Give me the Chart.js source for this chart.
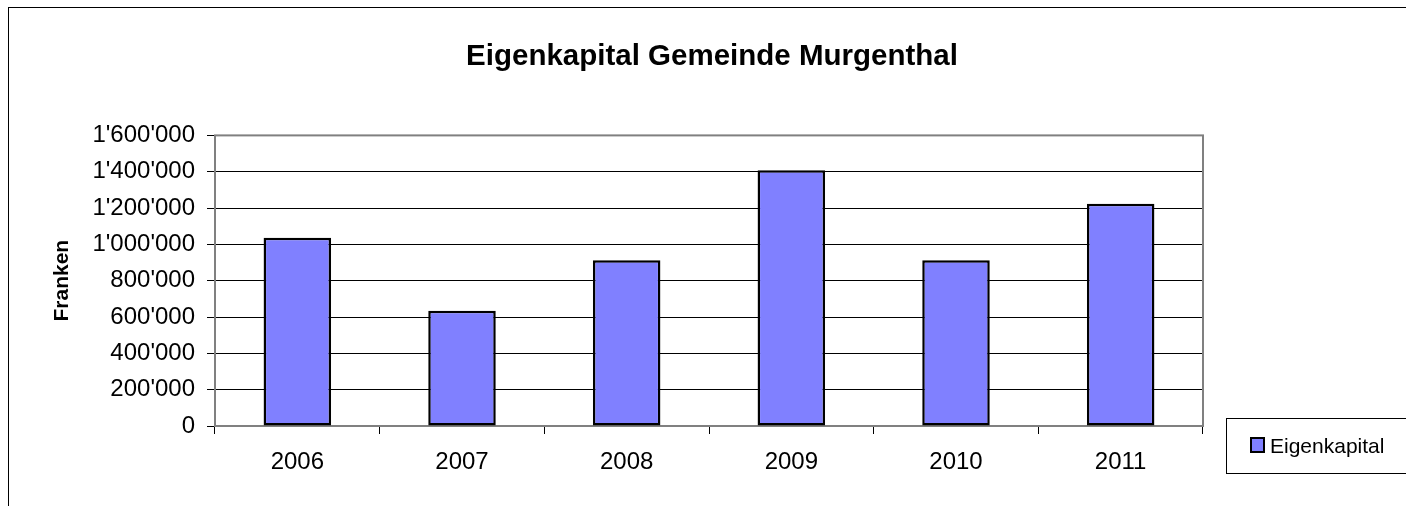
<!DOCTYPE html>
<html>
<head>
<meta charset="utf-8">
<script src="https://cdn.jsdelivr.net/npm/chart.js@4"></script>
<style>
  html, body { margin: 0; padding: 0; background: #fff; overflow: hidden; }
  #wrap { position: relative; width: 1424px; height: 506px; }
</style>
</head>
<body>
<div id="wrap"><canvas id="chart" width="1424" height="506"></canvas></div>
<script>
// Data
const years = ['2006', '2007', '2008', '2009', '2010', '2011'];
const eigenkapital = [1037000, 634000, 913000, 1408000, 913000, 1224000];
const yTicks = { min: 0, max: 1600000, step: 200000 };

const FONT = '"Liberation Sans", Arial, sans-serif';

// Swiss thousands separator: 1'600'000
const formatFranken = (v) => String(v).replace(/\B(?=(\d{3})+(?!\d))/g, "'");

// Outer chart frame, gray plot area frame and the Excel-like legend box
const excelFrame = {
  id: 'excelFrame',
  beforeDraw(chart) {
    const ctx = chart.ctx;
    ctx.save();
    ctx.strokeStyle = '#000';
    ctx.lineWidth = 1;
    ctx.strokeRect(8.5, 7.5, 1410, 560);
    ctx.restore();
  },
  beforeDatasetsDraw(chart) {
    const { ctx, chartArea: a } = chart;
    ctx.save();
    ctx.strokeStyle = '#808080';
    ctx.lineWidth = 2;
    ctx.strokeRect(a.left, a.top, a.right - a.left, a.bottom - a.top);
    ctx.restore();
  },
  afterDraw(chart) {
    const ctx = chart.ctx;
    const ds = chart.data.datasets[0];
    ctx.save();
    ctx.strokeStyle = '#000';
    ctx.lineWidth = 1;
    ctx.strokeRect(1226.5, 418.5, 200, 55);
    ctx.fillStyle = ds.backgroundColor;
    ctx.fillRect(1251, 438, 13, 14);
    ctx.strokeStyle = ds.borderColor;
    ctx.lineWidth = 2;
    ctx.strokeRect(1251, 438, 13, 14);
    ctx.fillStyle = '#000';
    ctx.font = '21px ' + FONT;
    ctx.textBaseline = 'alphabetic';
    ctx.fillText(ds.label, 1270, 453);
    ctx.restore();
  },
};

new Chart(document.getElementById('chart'), {
  type: 'bar',
  data: {
    labels: years,
    datasets: [{
      label: 'Eigenkapital',
      data: eigenkapital,
      backgroundColor: '#8080FF',
      borderColor: '#000',
      borderWidth: 2.5,
      borderSkipped: false,
      categoryPercentage: 1,
      barPercentage: 0.41,
    }],
  },
  options: {
    responsive: false,
    animation: false,
    layout: { padding: 0 },
    scales: {
      x: {
        grid: {
          drawOnChartArea: false,
          offset: true,
          tickLength: 8,
          color: '#000',
        },
        border: { display: false },
        ticks: {
          color: '#000',
          padding: 14,
          font: { family: FONT, size: 24 },
        },
        afterFit: (s) => { s.height = 80; },
      },
      y: {
        min: yTicks.min,
        max: yTicks.max,
        grid: {
          color: '#000',
          tickLength: 8,
        },
        border: { display: false },
        ticks: {
          stepSize: yTicks.step,
          color: '#000',
          padding: 12,
          font: { family: FONT, size: 24 },
          callback: (value) => formatFranken(value),
        },
        title: {
          display: true,
          text: 'Franken',
          color: '#000',
          font: { family: FONT, size: 21, weight: 'bold' },
          padding: { top: 50, bottom: 0 },
        },
        afterFit: (s) => { s.width = 215; },
      },
      // empty right-hand box that keeps the space for the legend
      pad: {
        type: 'linear',
        position: 'right',
        display: true,
        grid: { display: false },
        border: { display: false },
        ticks: { display: false },
        afterFit: (s) => { s.width = 1424 - 1203; },
      },
    },
    plugins: {
      legend: { display: false },
      tooltip: { enabled: false },
      title: {
        display: true,
        text: 'Eigenkapital Gemeinde Murgenthal',
        color: '#000',
        font: { family: FONT, size: 29.5, weight: 'bold' },
        padding: { top: 39, bottom: 61 },
      },
    },
  },
  plugins: [excelFrame],
});
</script>
</body>
</html>
